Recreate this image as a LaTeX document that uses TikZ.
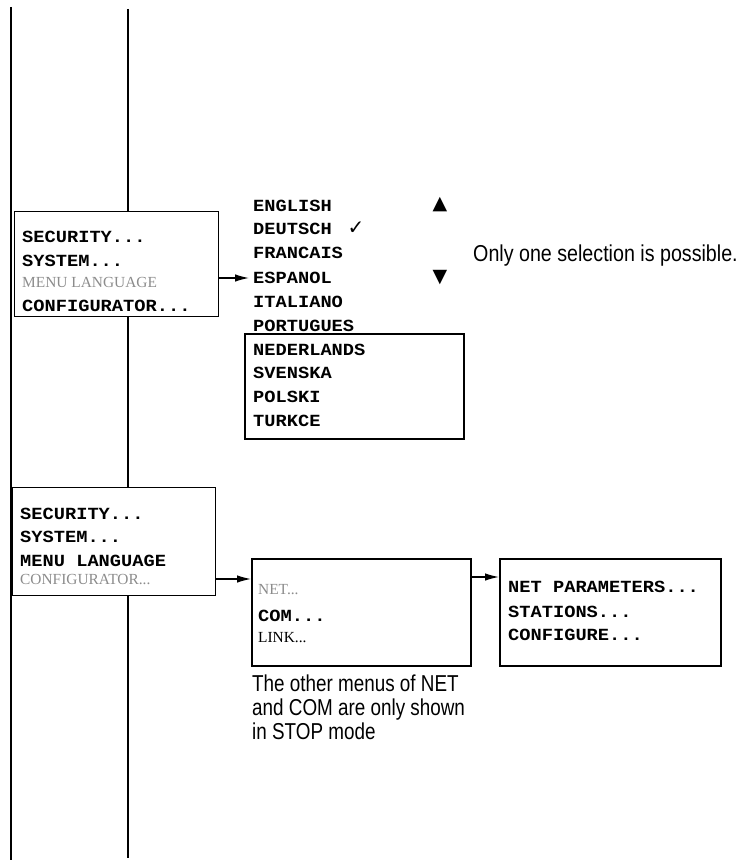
\documentclass[tikz,border=0pt]{standalone}
\usepackage{fontspec}
\setmainfont{Liberation Serif}
\newfontfamily\monofont[FakeStretch=1.1]{Liberation Mono}
\newfontfamily\condfont[FakeStretch=0.82]{Liberation Sans}
\newfontfamily\condwidefont[FakeStretch=0.855]{Liberation Sans}
\newfontfamily\symfont{DejaVu Sans}
\usetikzlibrary{arrows.meta}
\definecolor{menugray}{HTML}{8C8C8C}
\tikzset{
  vline/.style={line width=1.4pt},
  thinbox/.style={draw, line width=1.3pt, inner sep=0pt, anchor=north west},
  thickbox/.style={draw, line width=2pt, inner sep=0pt, anchor=north west},
  mono/.style={anchor=west, inner sep=0pt, font=\monofont\bfseries\fontsize{17}{20}\selectfont},
  serifgray/.style={anchor=west, inner sep=0pt, text=menugray, font=\fontsize{15.4}{18}\selectfont},
  serifblack/.style={anchor=west, inner sep=0pt, font=\fontsize{15.4}{18}\selectfont},
  cond/.style={anchor=base west, inner sep=0pt, font=\condfont\fontsize{23}{24}\selectfont},
  condwide/.style={anchor=base west, inner sep=0pt, font=\condwidefont\fontsize{23}{24}\selectfont},
  sym/.style={inner sep=0pt, font=\symfont\fontsize{19}{20}\selectfont},
  arr/.style={line width=1.3pt, -{Latex[length=14pt,width=7.5pt]}},
}
\begin{document}
\begin{tikzpicture}[x=1pt,y=-1pt]
\useasboundingbox (0,0) rectangle (743,861);
% boxes
\node[thinbox, minimum width=204pt, minimum height=105pt] (box1) at (14,211) {};
\node[thinbox, minimum width=203pt, minimum height=108pt] (box2) at (12,487) {};
\node[thickbox, minimum width=219pt, minimum height=105pt] (langbox) at (244,333) {};
\node[thickbox, minimum width=219pt, minimum height=107pt] (box3) at (251,558) {};
\node[thickbox, minimum width=221pt, minimum height=107pt] (box4) at (499,558) {};
% vertical lines
\coordinate (l1top) at (11,7);
\coordinate (l1bot) at (11,860);
\coordinate (l2top) at (128,9);
\coordinate (l2bot) at (128,858);
\draw[vline] (l1top) -- (l1bot);
\draw[vline] (l2top) -- (l2top |- box1.north);
\draw[vline] (l2top |- box1.south) -- (l2top |- box2.north);
\draw[vline] (l2top |- box2.south) -- (l2bot);
% box1 texts
\node[mono] (b1sec) at (22,237) {SECURITY...};
\node[mono] (b1sys) at (22,261) {SYSTEM...};
\node[serifgray] (b1men) at (22,282) {MENU LANGUAGE};
\node[mono] (b1cfg) at (22,306) {CONFIGURATOR...};
% languages
\node[mono] (en) at (253,206) {ENGLISH};
\node[mono] (de) at (253,229) {DEUTSCH};
\node[mono] (fr) at (253,253) {FRANCAIS};
\node[mono] (es) at (253,278) {ESPANOL};
\node[mono] (it) at (253,302) {ITALIANO};
\node[mono] (pt) at (253,326) {PORTUGUES};
\node[mono] (nl) at (253,350) {NEDERLANDS};
\node[mono] (sv) at (253,373) {SVENSKA};
\node[mono] (pl) at (253,397) {POLSKI};
\node[mono] (tr) at (253,421) {TURKCE};
\node[sym, font=\symfont\bfseries\fontsize{20}{22}\selectfont] (check) at (356,228) {✓};
\node[sym] (up) at (440,205) {▲};
\node[sym] (down) at (440,278) {▼};
\node[condwide] (note1) at (473,261) {Only one selection is possible.};
% box2 texts
\node[mono] (b2sec) at (20,514) {SECURITY...};
\node[mono] (b2sys) at (20,537) {SYSTEM...};
\node[mono] (b2men) at (20,561) {MENU LANGUAGE};
\node[serifgray] (b2cfg) at (20,580) {CONFIGURATOR...};
% box3 texts
\node[serifgray] (net) at (258,590) {NET...};
\node[mono] (com) at (258,616) {COM...};
\node[serifblack] (link) at (258,638) {LINK...};
% box4 texts
\node[mono] (netpar) at (508,587) {NET PARAMETERS...};
\node[mono] (stat) at (508,612) {STATIONS...};
\node[mono] (conf) at (508,635) {CONFIGURE...};
% caption
\node[cond] (cap1) at (252,691) {The other menus of NET};
\node[cond] (cap2) at (252,715) {and COM are only shown};
\node[cond] (cap3) at (252,739) {in STOP mode};
% arrows
\draw[arr] (box1.east |- es.west) -- ([xshift=-4pt]es.west);
\coordinate (a2) at (215,579);
\draw[arr] (box2.east |- a2) -- (box3.west |- a2);
\coordinate (a3) at (470,577);
\draw[arr] (box3.east |- a3) -- (box4.west |- a3);
\end{tikzpicture}
\end{document}
